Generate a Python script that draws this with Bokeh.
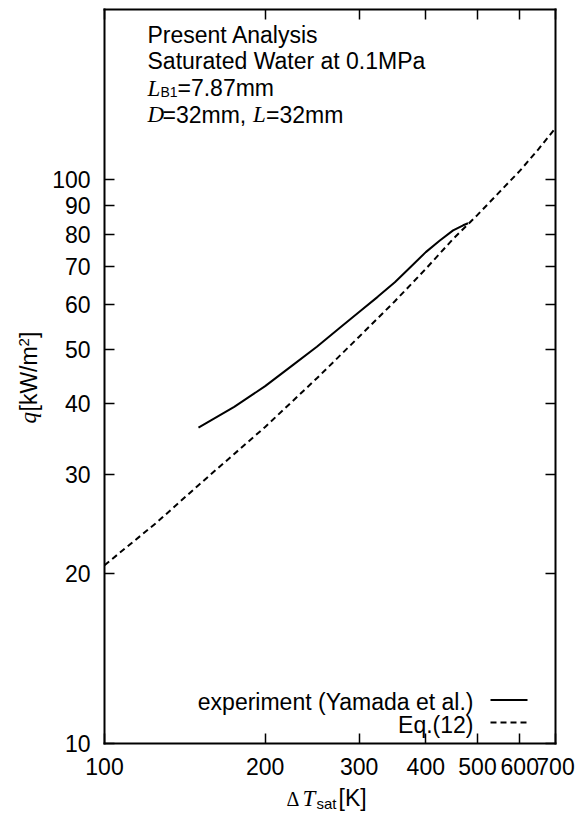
import math
from bokeh.plotting import figure
from bokeh.models import (FixedTicker, LogAxis, Label, Arrow, ColumnDataSource,
                          Range1d, BasicTickFormatter)
from bokeh.embed import file_html
from bokeh.resources import INLINE

# ---------------- data ----------------
dT_eq = [100, 125, 150, 175, 200, 250, 300, 350, 400, 450, 500, 550, 600, 650, 700]
q_eq = [20.7, 24.6, 28.7, 32.6, 36.4, 44.4, 52.6, 60.8, 69.4, 78.4, 86.5, 95.0, 103.5, 113.0, 123.3]

dT_exp = [150, 175, 200, 225, 250, 275, 300, 325, 350, 375, 400, 425, 450, 470, 480]
q_exp = [36.3, 39.5, 43.0, 46.8, 50.5, 54.4, 58.2, 61.9, 65.7, 70.0, 74.3, 77.9, 81.2, 82.9, 83.6]

x_ticks = [100, 200, 300, 400, 500, 600, 700]
y_ticks = [10, 20, 30, 40, 50, 60, 70, 80, 90, 100]
x_lim = (100, 700)
y_lim = (10, 200)

legend_labels = ["experiment (Yamada et al.)", "Eq.(12)"]

# ---------------- layout ----------------
W, H = 584, 818
FL, FR, FT, FB = 104, 555, 9, 743   # drawn box edges in page pixels

# the figure's frame covers the whole page; the box is drawn by four
# fixed-location axes, so that texts outside the box are not clipped
kx = (math.log10(x_lim[1]) - math.log10(x_lim[0])) / (FR - FL)
ky = (math.log10(y_lim[1]) - math.log10(y_lim[0])) / (FB - FT)
xr = Range1d(10 ** (math.log10(x_lim[0]) - FL * kx), 10 ** (math.log10(x_lim[1]) + (W - FR) * kx))
yr = Range1d(10 ** (math.log10(y_lim[0]) - (H - FB) * ky), 10 ** (math.log10(y_lim[1]) + FT * ky))

SANS = "Liberation Sans"
SERIF = "Liberation Serif"
FS = "23px"

p = figure(width=W, height=H, min_border=0,
           x_axis_type="log", y_axis_type="log",
           x_axis_location=None, y_axis_location=None,
           x_range=xr, y_range=yr,
           output_backend="svg", toolbar_location=None,
           background_fill_color="white", border_fill_color="white")
p.title.visible = False
p.outline_line_color = None
p.grid.grid_line_color = None


def make_axis(ticks, bounds, loc, show_labels, standoff=0):
    ax = LogAxis(ticker=FixedTicker(ticks=ticks), bounds=bounds, fixed_location=loc)
    ax.formatter = BasicTickFormatter(use_scientific=False)
    ax.major_tick_in = 10
    ax.major_tick_out = 0
    ax.major_tick_line_width = 1.5
    ax.major_tick_line_color = "black"
    ax.minor_tick_line_color = None
    ax.axis_line_color = "black"
    ax.axis_line_width = 2
    ax.axis_line_cap = "square"
    if show_labels:
        ax.major_label_text_font = SANS
        ax.major_label_text_font_size = FS
        ax.major_label_text_color = "black"
        ax.major_label_standoff = standoff
    else:
        ax.major_label_overrides = {t: "" for t in ticks}
        ax.major_label_text_font_size = "0px"
        ax.major_label_standoff = 0
    return ax


p.add_layout(make_axis(x_ticks, x_lim, y_lim[0], True, 14), "below")
p.add_layout(make_axis(y_ticks, y_lim, x_lim[0], True, 14), "left")
p.add_layout(make_axis(x_ticks, x_lim, y_lim[1], False), "above")
p.add_layout(make_axis(y_ticks, y_lim, x_lim[1], False), "right")

# ---------------- curves ----------------
src_exp = ColumnDataSource(dict(x=dT_exp, y=q_exp))
src_eq = ColumnDataSource(dict(x=dT_eq, y=q_eq))
p.line("x", "y", source=src_exp, line_color="black", line_width=2)
p.line("x", "y", source=src_eq, line_color="black", line_width=2, line_dash="6 4")


# ---------------- texts (page pixels, y down; visual centre of the text) ----------------
def lab(text, xc, yc, font=SANS, size=FS, style="normal", align="left", angle=0.0):
    p.add_layout(Label(x=xc, y=H - yc, x_units="screen", y_units="screen",
                       text=text, text_font=font, text_font_size=size,
                       text_font_style=style, text_align=align,
                       text_baseline="middle", text_color="black", angle=angle))


lab("Present Analysis", 147, 34)
lab("Saturated Water at 0.1MPa", 147, 60.5)
lab("L", 147, 87.5, font=SERIF, style="italic")
lab("B1", 160, 91.5, size="14px")
lab("=7.87mm", 177, 87.5)
lab("D", 147, 114, font=SERIF, style="italic")
lab("=32mm,", 162, 114)
lab("L", 252.5, 114, font=SERIF, style="italic")
lab("=32mm", 265.5, 114)

# legend (labels to the left of the line samples)
lab(legend_labels[0], 473, 701, align="right")
lab(legend_labels[1], 473, 724.5, align="right")
p.add_layout(Arrow(end=None, x_start=490, y_start=H - 699.5, x_end=527, y_end=H - 699.5,
                   start_units="screen", end_units="screen", line_width=2, line_color="black"))
p.add_layout(Arrow(end=None, x_start=490, y_start=H - 722, x_end=527, y_end=H - 722,
                   start_units="screen", end_units="screen", line_width=2, line_color="black",
                   line_dash="6 4"))

# x axis label: Δ T_sat[K]
lab("\u0394", 286, 798, font=SERIF, size="20px")
lab("T", 302, 797.5, font=SERIF, style="italic")
lab("sat", 316, 803, size="15px")
lab("[K]", 338, 797.5)

# y axis label: q[kW/m²]  (reads bottom to top)
ang = math.pi / 2
lab("q", 28, 423, font=SERIF, style="italic", angle=ang)
lab("[kW/m", 28, 411, angle=ang)
lab("2", 23, 346, size="15px", angle=ang)
lab("]", 28, 337.5, angle=ang)

open("out.html", "w").write(file_html(p, INLINE))
